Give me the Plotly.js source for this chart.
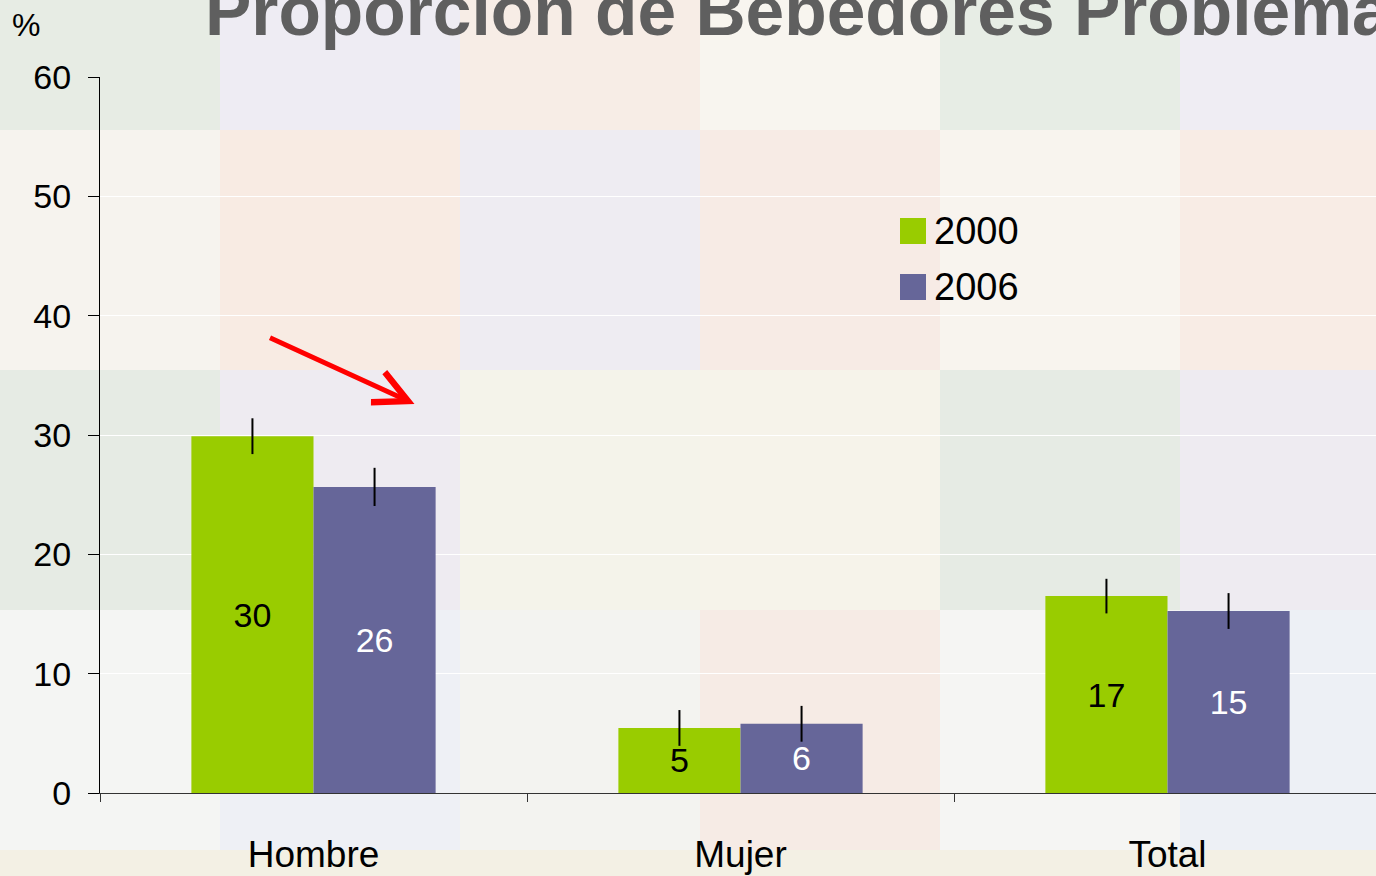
<!DOCTYPE html>
<html><head><meta charset="utf-8">
<script src="https://cdn.plot.ly/plotly-3.0.1.min.js"></script>
<style>html,body{margin:0;padding:0;overflow:hidden;background:#f5f2ee}</style>
</head><body><div id="chart" style="width:1376px;height:876px"></div>
<script>
// ---- data ----
const categories = ['Hombre', 'Mujer', 'Total'];
const seriesNames = ['2000', '2006'];
const values2000 = [29.9, 5.45, 16.5];
const values2006 = [25.65, 5.8, 15.25];
const err2000 = [1.5, 1.5, 1.45];
const err2006 = [1.6, 1.5, 1.5];
const yTickVals = [0, 10, 20, 30, 40, 50, 60];
const titleText = 'Proporción de Bebedores Problema';
const unitLabel = '%';

// ---- geometry helpers (plot area: l=100, t=77, w=1276, h=716) ----
const W = 1376, H = 876, ML = 100, MT = 77, MB = 83, MR = 0;
const PW = W - ML - MR, PH = H - MT - MB;
const px2x = px => (px - ML) / PW;
const py2y = py => (MT + PH - py) / PH;

// background mosaic (decorative)
const mosaic = [
  ['#e7ece4', '#eeecf3', '#f7ede6', '#f8f5ef', '#e7ede5', '#efedf3'],
  ['#f6f3ee', '#f8ebe3', '#eeecf2', '#f7ebe5', '#f8f4ee', '#f8ece5'],
  ['#e6ebe4', '#eeebf1', '#f4f3ea', '#f6f3ea', '#e6ebe4', '#eeebf1'],
  ['#f4f5f3', '#eef0f5', '#f3f3f0', '#f6ebe5', '#f5f5f3', '#edf0f5'],
  ['#f3f0e4', '#f3f0e4', '#f3f0e4', '#f3f0e4', '#f3f0e4', '#f3f0e4']
];
const colEdges = [-20, 220, 460, 700, 940, 1180, 1420];
const rowEdges = [-110, 130, 370, 610, 850, 1090];
const shapes = [];
for (let r = 0; r < mosaic.length; r++) {
  for (let c = 0; c < mosaic[r].length; c++) {
    shapes.push({
      type: 'rect', xref: 'paper', yref: 'paper', layer: 'below',
      x0: px2x(colEdges[c]), x1: px2x(colEdges[c + 1]),
      y0: py2y(rowEdges[r + 1]), y1: py2y(rowEdges[r]),
      fillcolor: mosaic[r][c], line: {width: 0}
    });
  }
}

const colors = ['#99cc00', '#666699'];
const textColors = ['#000000', '#ffffff'];

// custom legend (large squares)
const annotations = [];
seriesNames.forEach((name, i) => {
  const cy = 231 + i * 56;
  shapes.push({
    type: 'rect', xref: 'paper', yref: 'paper', layer: 'above',
    x0: px2x(900), x1: px2x(926), y0: py2y(cy + 13), y1: py2y(cy - 13),
    fillcolor: colors[i], line: {width: 0}
  });
  annotations.push({
    xref: 'paper', yref: 'paper', x: px2x(932), y: py2y(cy),
    xanchor: 'left', yanchor: 'middle', showarrow: false, text: name,
    font: {family: 'Liberation Sans, Arial, sans-serif', size: 38, color: '#000'}
  });
});

// unit label
annotations.push({
  xref: 'paper', yref: 'paper', x: px2x(26), y: py2y(25),
  xanchor: 'center', yanchor: 'middle', showarrow: false, text: unitLabel,
  font: {family: 'Liberation Sans, Arial, sans-serif', size: 32, color: '#000'}
});

// red arrow
annotations.push({
  x: (414 - 313) / 427, y: (793 - 404) / (PH / 60), xref: 'x', yref: 'y',
  ax: -146, ay: -67, showarrow: true, arrowhead: 5, arrowsize: 1.3,
  arrowwidth: 5, arrowcolor: '#ff0000', text: ''
});

const seriesValues = [values2000, values2006];
const seriesErr = [err2000, err2006];
const traces = seriesNames.map((name, i) => ({
  type: 'bar', name: name, x: categories, y: seriesValues[i],
  marker: {color: colors[i], line: {width: 0}},
  error_y: {type: 'data', array: seriesErr[i], visible: true, color: '#000', thickness: 2, width: 0},
  texttemplate: '%{y:.0f}', textposition: 'inside', insidetextanchor: 'middle',
  textangle: 0, constraintext: 'none',
  textfont: {family: 'Liberation Sans, Arial, sans-serif', size: 34, color: textColors[i]},
  showlegend: false, hoverinfo: 'x+y+name'
}));

const layout = {
  width: W, height: H,
  margin: {l: ML, r: MR, t: MT, b: MB, pad: 0},
  paper_bgcolor: '#f5f2ee', plot_bgcolor: 'rgba(0,0,0,0)',
  barmode: 'group', bargap: 0.428, bargroupgap: 0,
  showlegend: false,
  title: {
    text: '<b>' + titleText + '</b>', xref: 'container', yref: 'container',
    x: 205 / W, xanchor: 'left', y: 1 - 11 / H, yanchor: 'middle',
    font: {family: 'Liberation Sans, Arial, sans-serif', size: 69.5, color: '#5f5f5f'}
  },
  xaxis: {
    type: 'category', range: [-0.5, -0.5 + PW / 427],
    tickson: 'boundaries', ticks: 'outside', ticklen: 8, tickwidth: 1, tickcolor: '#333',
    showline: true, linecolor: '#333', linewidth: 1, showgrid: false, zeroline: false,
    tickfont: {family: 'Liberation Sans, Arial, sans-serif', size: 37, color: '#000'},
    ticklabelstandoff: 29
  },
  yaxis: {
    range: [0, 60], tickvals: yTickVals, ticktext: yTickVals.map(String),
    ticks: 'outside', ticklen: 11, tickwidth: 1, tickcolor: '#000',
    showline: true, linecolor: '#000', linewidth: 1,
    showgrid: true, gridcolor: '#ffffff', gridwidth: 1, zeroline: false,
    tickfont: {family: 'Liberation Sans, Arial, sans-serif', size: 34, color: '#000'},
    ticklabelstandoff: 10
  },
  shapes: shapes, annotations: annotations
};

Plotly.newPlot('chart', traces, layout, {displayModeBar: false, staticPlot: true});
</script></body></html>
